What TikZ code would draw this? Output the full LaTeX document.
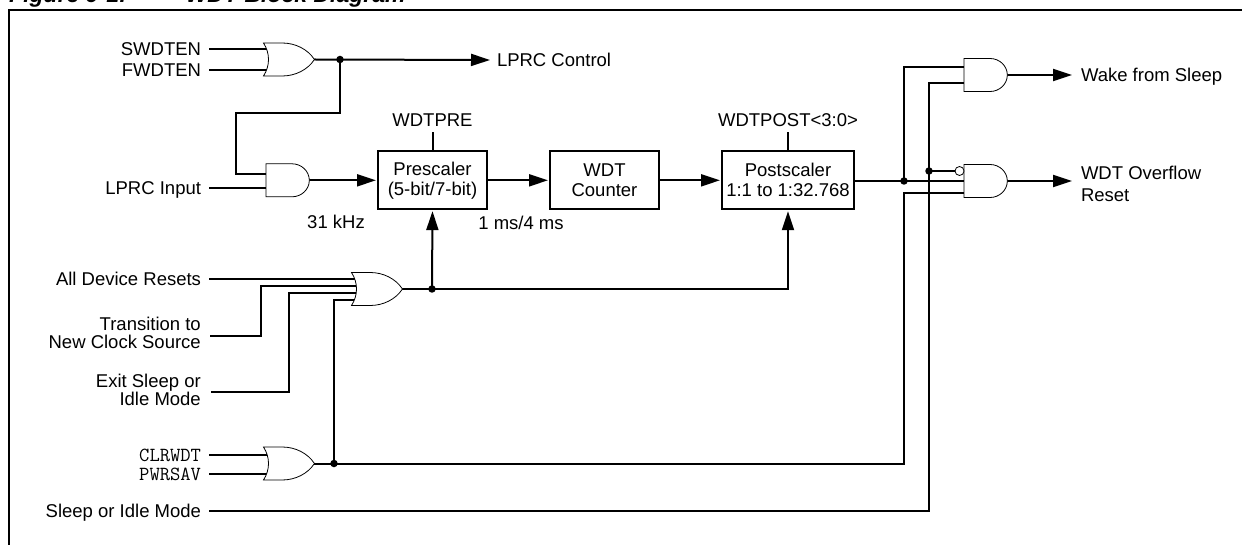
\documentclass[tikz,border=0pt]{standalone}
\usepackage{fontspec}
\setmainfont{Liberation Sans}
\usepackage{tikz}
\usetikzlibrary{positioning}
\usetikzlibrary{arrows.meta}
\usetikzlibrary{backgrounds}
\usetikzlibrary{shapes.gates.logic.US}
\begin{document}
\begin{tikzpicture}[x=1pt,y=-1pt,font=\fontsize{18.5}{18.5}\selectfont,
      sig style/.style={line width=2pt},
      sigarrow style/.style={line width=2pt,-{Triangle[length=19pt,width=12pt]},shorten >=2pt},
      box style/.style={rectangle,draw=black,line width=2pt,minimum height=57.7pt,align=center,inner sep=0pt,outer sep=0pt},
      or style/.style={or gate US,draw=black,fill=white,line width=0.8pt,logic gate inputs=nn,logic gate input sep=11pt,inner sep=0pt,outer sep=0pt,anchor=west,transform shape,xscale=1.13},
      and style/.style={and gate US,draw=black,fill=white,line width=0.8pt,logic gate inputs=nn,logic gate input sep=11pt,inner sep=0pt,outer sep=0pt,anchor=west,transform shape,xscale=1.05},
      dot style/.style={circle,fill=black,inner sep=0pt,minimum size=7.5pt},
      in style/.style={anchor=east,inner sep=0pt,outer sep=0pt,xshift=-8pt,text height=13pt,text depth=0pt},
      inmulti style/.style={anchor=east,align=right,inner sep=0pt},
      out style/.style={anchor=west,align=left,outer sep=0pt},
      note style/.style={inner sep=0pt,outer sep=0pt}
      ]
      \useasboundingbox (0,0) rectangle (1242,545);

      \draw[line width=2pt] (1242,10) -| (9,545);
      \node[anchor=base west,inner sep=0pt,font=\fontsize{23}{23}\selectfont\bfseries\itshape] (title) at (9,3) {Figure 9-1:\hspace{59pt}WDT Block Diagram};

      \node[or style] (ctrlor) at (268.5,59.5) {};
      \node[in style] (swdten) at (209,49) {SWDTEN};
      \node[in style] (fwdten) at (209,70) {FWDTEN};
      \node[out style,inner sep=5pt] (lprcctrl) at (492,60) {LPRC Control};
      \node[dot style] (ctrldot) at (340,59.5) {};
      \coordinate (feedbend) at (236,113);
      \coordinate (lprcin1) at (270,174);

      \node[and style] (lprcand) at (266,180.3) {};
      \node[in style] (lprcin) at (209,188) {LPRC Input};

      \node[box style,minimum width=109pt] (prescaler) at (432.5,180.3) {Prescaler\\[1.5pt](5-bit/7-bit)};
      \node[box style,minimum width=109pt,right=63pt of prescaler] (counter) {WDT\\[1.5pt]Counter};
      \node[box style,minimum width=132pt,right=63pt of counter] (postscaler) {Postscaler\\[1.5pt]1:1 to 1:32.768};
      \node[note style,above=25pt of prescaler.north,text height=13pt,text depth=0pt] (wdtpre) {WDTPRE};
      \node[note style,above=25pt of postscaler.north,text height=13pt,text depth=0pt] (wdtpost) {WDTPOST<3:0>};
      \node[note style] (khz) at (336,222) {31 kHz};
      \node[note style] (ms) at (521,223) {1 ms/4 ms};

      \node[or style] (resetor) at (356.5,289) {};
      \node[in style] (allresets) at (209,279) {All Device Resets};
      \node[inmulti style] (transition) at (201,333) {Transition to\\New Clock Source};
      \node[inmulti style] (exitsleep) at (201,390) {Exit Sleep or\\Idle Mode};
      \coordinate (transend) at (210,336);
      \coordinate (transbend) at (261,336);
      \coordinate (exitend) at (211,392);
      \coordinate (exitbend) at (289,392);
      \coordinate (resetin2) at (362,286);
      \coordinate (resetin3) at (362,293);
      \coordinate (resetin4) at (362,300);
      \node[dot style] (resetdot) at (432,289) {};

      \node[or style] (clror) at (268.5,463.5) {};
      \node[in style,font=\fontsize{20}{20}\selectfont\ttfamily] (clrwdt) at (209,455) {CLRWDT};
      \node[in style,font=\fontsize{20}{20}\selectfont\ttfamily] (pwrsav) at (209,474) {PWRSAV};
      \node[dot style] (clrdot) at (334,463.5) {};
      \node[in style] (sleepidle) at (209,511) {Sleep or Idle Mode};

      \node[and style] (wakeand) at (964,75) {};
      \node[and style] (resetand) at (964,181) {};
      \node[dot style] (postdot) at (904,181) {};
      \node[dot style] (invdot) at (929,171) {};
      \node[circle,draw=black,fill=white,line width=0.8pt,minimum size=9pt,inner sep=0pt] (invbub) at (959.5,171) {};
      \coordinate (wakein1) at (970,67);
      \coordinate (wakein2) at (970,83);
      \coordinate (resetin) at (970,193);
      \node[out style,inner sep=7pt,text height=13pt,text depth=0pt] (wake) at (1074,75) {Wake from Sleep};
      \node[out style,inner sep=7pt] (overflow) at (1074,184) {WDT Overflow\\[3.5pt]Reset};

      \begin{scope}[on background layer]
      \draw[sig style] (swdten.east) ++(8pt,0) -- (ctrlor.west |- swdten.east);
      \draw[sig style] (fwdten.east) ++(8pt,0) -- (ctrlor.west |- fwdten.east);
      \draw[sigarrow style] (ctrlor.east) -- (lprcctrl.west);
      \draw[sig style] (ctrldot.center) |- (feedbend) |- (lprcin1);
      \draw[sig style] (lprcin.east) ++(8pt,0) -- (lprcand.west |- lprcin.east);
      \draw[sigarrow style] (lprcand.east) -- (prescaler.west);
      \draw[sigarrow style] (prescaler.east) -- (counter.west);
      \draw[sigarrow style] (counter.east) -- (postscaler.west);
      \draw[sig style] (wdtpre.south) ++(0,-6pt) -- (prescaler.north);
      \draw[sig style] (wdtpost.south) ++(0,-6pt) -- (postscaler.north);

      \draw[sig style] (allresets.east) ++(8pt,0) -- (resetor.west |- allresets.east);
      \draw[sig style] (transend) -- (transbend) |- (resetin2);
      \draw[sig style] (exitend) -- (exitbend) |- (resetin3);
      \draw[sig style] (clrdot.center) |- (resetin4);
      \draw[sig style] (resetor.east) -- (resetdot.center);
      \draw[sigarrow style] (resetdot.center) -- (prescaler.south);
      \draw[sigarrow style] (resetdot.center) -| (postscaler.south);

      \draw[sig style] (clrwdt.east) ++(8pt,0) -- (clror.west |- clrwdt.east);
      \draw[sig style] (pwrsav.east) ++(8pt,0) -- (clror.west |- pwrsav.east);
      \draw[sig style] (clror.east) -- (clrdot.center);
      \draw[sig style] (clrdot.center) -| (postdot |- resetin) -- (resetin);
      \draw[sig style] (sleepidle.east) ++(8pt,0) -| (invdot.center);
      \draw[sig style] (invdot.center) |- (wakein2);
      \draw[sig style] (invdot.center) -- (invbub.west);
      \draw[sig style] (postscaler.east |- resetand.west) -- (resetand.west);
      \draw[sig style] (postdot.center) |- (wakein1);
      \draw[sigarrow style] (wakeand.east) -- (wake.west);
      \draw[sigarrow style] (resetand.east) -- (overflow.west |- resetand.east);
      \end{scope}

    \end{tikzpicture}
\end{document}
